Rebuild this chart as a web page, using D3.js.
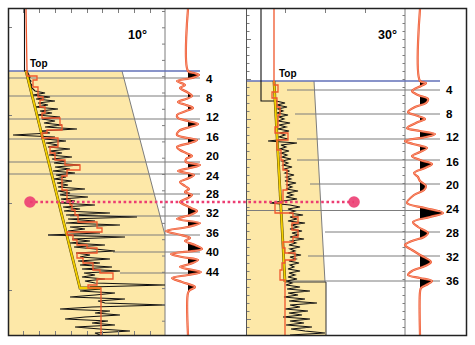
<!DOCTYPE html>
<html>
<head>
<meta charset="utf-8">
<script src="https://cdn.jsdelivr.net/npm/d3@7"></script>
<style>
  body { margin: 0; background: #fff; }
  svg { display: block; font-family: "Liberation Sans", Arial, sans-serif; }
</style>
</head>
<body>
<svg id="chart" width="475" height="345"></svg>
<script>
// depth is counted down from the top of the frame, log values from the left edge of each track
const sampleStep = 2;

// ---- 10° panel ----
const topDepth10 = 62;
const sonicStart10 = 62;
const sonicAbove10 = 15.5;
const sonic10 = [
  18, 19, 20, 21, 20, 22, 21, 23, 22, 24,
  26, 36, 24, 41, 27, 46, 29, 39, 26, 49,
  31, 43, 28, 51, 33, 46, 35, 53, 36, 68,
  31, 41, 4, 46, 36, 57, 37, 49, 39, 61,
  41, 53, 40, 63, 43, 56, 45, 71, 46, 61,
  44, 66, 47, 57, 45, 63, 48, 59, 49, 76,
  49, 61, 51, 79, 52, 66, 51, 86, 54, 71,
  55, 101, 57, 128, 59, 86, 57, 111, 61, 76,
  59, 91, 39, 116, 63, 81, 61, 96, 65, 86,
  106, 67, 81, 71, 101, 69, 91, 71, 103, 73,
  111, 75, 86, 73, 96, 76, 86, 156, 81, 91,
  71, 106, 86, 61, 116, 89, 96, 156, 83, 51,
  101, 86, 111, 76, 56, 99, 83, 106, 66, 91,
  121, 86, 91
];
const redAbove10 = 17;
const blockDepth10 = [62, 67, 71, 78, 88, 91, 98, 104, 109, 116, 121, 124, 129, 138, 144, 151, 156, 161, 167, 181,
  191, 196, 201, 206, 213, 219, 223, 226, 231, 236, 239, 244, 249, 254, 261, 264, 270, 276, 279, 326];
const blockVal10 = [18, 28, 24, 29, 34, 31, 36, 33, 51, 53, 38, 33, 49, 41, 46, 56, 71, 58, 53, 58,
  61, 63, 66, 69, 88, 93, 58, 64, 68, 78, 88, 68, 74, 84, 91, 104, 88, 79, 92];
const trendDepth10 = [62, 279, 279];
const trendVal10 = [17, 71, 92];
const wedgeDepth10 = [62, 226];
const wedgeVal10 = [113, 156];
const events10 = [4, 8, 12, 16, 20, 24, 28, 32, 36, 40, 44];
const eventDepth10 = [69, 87, 110, 130, 153, 165, 185, 207, 226, 243, 264];
const labelDepth10 = [70, 88.5, 108, 127.5, 147, 166.5, 184.5, 204, 224, 243, 262.5];
const eventFrom10 = [0, 0, 0, 0, 0, 0, 51, 61, 39, 104, 111];
const wigDepth10 = [62, 64, 66, 69, 72, 76, 79, 83, 87, 90,
  93, 96, 99, 102, 106, 109, 112, 115, 118, 122,
  126, 129, 131, 134, 138, 141, 144, 147, 150, 153,
  156, 159, 162, 166, 169, 173, 177, 180, 183, 186,
  189, 193, 196, 199, 202, 206, 210, 214, 218, 222,
  226, 229, 232, 236, 240, 245, 248, 251, 255, 258,
  263, 266, 269, 273, 278, 281, 284];
const wigAmp10 = [0, 6, 11, 4, -11, -3, -8, -1, 4, -2,
  -10, -2, 5, -2, -11, -10, 0, 10, 2, -9,
  -11, 0, 9, 2, -11, -8, -2, 4, -2, -2,
  12, 2, -10, 6, 1, -8, -3, 1, -3, 4,
  0, -8, -3, 3, 9, 2, -11, 12, 0, -22,
  -7, 2, -3, 7, 14, -17, -6, 10, 2, -8,
  13, 0, -16, -6, 7, 2, 0];

// ---- 30° panel ----
const topDepth30 = 72;
const sonicStart30 = 92;
const sonicAbove30 = 14;
const sonic30 = [
  29, 38, 30, 40, 31, 36, 30, 41, 32, 37,
  31, 43, 32, 39, 31, 42, 33, 38, 32, 41,
  21, 50, 34, 39, 33, 42, 34, 40, 35, 44,
  35, 41, 36, 45, 37, 42, 38, 47, 39, 44,
  38, 49, 40, 45, 39, 51, 40, 46, 39, 50,
  36, 23, 43, 53, 41, 48, 42, 56, 43, 50,
  41, 58, 44, 51, 43, 55, 45, 52, 43, 57,
  44, 49, 42, 53, 43, 48, 41, 54, 43, 49,
  42, 52, 43, 47, 41, 53, 42, 48, 41, 50,
  40, 45, 39, 53, 40, 63, 41, 51, 37, 58,
  42, 70, 43, 53, 38, 61, 42, 55, 36, 63,
  43, 57, 39, 65, 44, 58, 78, 43
];
const redAbove30 = 27;
const blockDepth30 = [72, 76, 83, 89, 98, 106, 118, 124, 131, 141, 151, 161, 181, 194, 204, 208, 214, 221, 228, 233,
  239, 244, 251, 254, 261, 271, 326];
const blockVal30 = [27, 31, 25, 30, 33, 31, 28, 41, 30, 34, 36, 40, 36, 28, 46, 51, 45, 51, 46, 36,
  38, 48, 38, 35, 33, 38];
const trendDepth30 = [72, 273];
const trendVal30 = [27, 38];
const wedgeDepth30 = [72, 273, 273, 326];
const wedgeVal30 = [67, 78, 79, 79];
const events30 = [4, 8, 12, 16, 20, 24, 28, 32, 36];
const eventDepth30 = [81, 105, 130, 151, 175, 201.5, 223, 247, 272];
const labelDepth30 = [81, 105, 128, 153, 176, 200, 224, 248, 272];
const eventFrom30 = [40, 48, 50, 50, 63, 0, 78, 61, 38];
const wigDepth30 = [72, 74, 77, 82, 86, 90, 94, 98, 103, 107,
  110, 113, 119, 122, 125, 128, 132, 135, 139, 143,
  147, 151, 155, 159, 164, 168, 172, 177, 181, 186,
  194, 199, 204, 208, 213, 218, 224, 228, 232, 236,
  241, 247, 253, 257, 262, 266, 269, 272, 275, 279, 283];
const wigAmp30 = [0, 6, 1, -8, -2, 8, 6, -5, -12, -2,
  5, -2, -13, 0, 15, 6, -15, -7, 7, 0,
  -8, 0, 12, 5, -6, -2, 0, 6, 4, -6,
  -13, 5, 23, 10, -7, -2, 8, 4, -8, -15,
  -8, 2, 11, 5, -8, -12, 0, 12, 8, 1, 0];

// pink marker joining the two panels
const markerDepth = 193;
const markerVal10 = 21;
const markerVal30 = 107;

const colors = {
  fill: '#fde8a8', red: '#f0562c', blue: '#6270b8', grey: '#7d7d7d',
  trend: '#f5d000', pink: '#ec3d72', ink: '#111'
};

const svg = d3.select('#chart');
const depth = d3.scaleLinear().domain([0, 326]).range([9, 335]);

const panels = [
  {
    name: '10°', x: d3.scaleLinear().domain([0, 156]).range([9, 165]),
    amp: d3.scaleLinear().domain([-30, 30]).range([158, 218]),
    top: topDepth10, sonicStart: sonicStart10, sonicAbove: sonicAbove10, sonic: sonic10,
    redAbove: redAbove10, blockDepth: blockDepth10, blockVal: blockVal10,
    trendDepth: trendDepth10, trendVal: trendVal10,
    fillDepth: [topDepth10, ...wedgeDepth10, 326], fillVal: [wedgeVal10[0], ...wedgeVal10, wedgeVal10[1]],
    wedgeDepth: wedgeDepth10, wedgeVal: wedgeVal10,
    events: events10, eventDepth: eventDepth10, labelDepth: labelDepth10, eventFrom: eventFrom10,
    wigDepth: wigDepth10, wigAmp: wigAmp10,
    lineEnd: 200, labelX: 206, titleX: 128, topLabelX: 30
  },
  {
    name: '30°', x: d3.scaleLinear().domain([0, 158]).range([247, 405]),
    amp: d3.scaleLinear().domain([-30, 30]).range([390, 450]),
    top: topDepth30, sonicStart: sonicStart30, sonicAbove: sonicAbove30, sonic: sonic30,
    redAbove: redAbove30, blockDepth: blockDepth30, blockVal: blockVal30,
    trendDepth: trendDepth30, trendVal: trendVal30,
    fillDepth: [topDepth30, ...wedgeDepth30], fillVal: [wedgeVal30[0], ...wedgeVal30],
    wedgeDepth: wedgeDepth30.slice(0, 2), wedgeVal: wedgeVal30.slice(0, 2),
    events: events30, eventDepth: eventDepth30, labelDepth: labelDepth30, eventFrom: eventFrom30,
    wigDepth: wigDepth30, wigAmp: wigAmp30,
    lineEnd: 440, labelX: 446, titleX: 378, topLabelX: 279
  }
];

const line = d3.line().x(d => d[0]).y(d => d[1]);

panels.forEach((p, k) => {
  const g = svg.append('g');
  const x = p.x;
  const left = x.range()[0], div = x.range()[1];

  // yellow fill of the log track
  const poly = [[x(0), depth(p.top)]]
    .concat(p.fillDepth.map((d, i) => [x(p.fillVal[i]), depth(d)]))
    .concat([[x(0), depth(326)]]);
  g.append('path').attr('d', line(poly) + 'Z').attr('fill', colors.fill);

  // slanted boundary
  g.append('path')
    .attr('d', line(p.wedgeDepth.map((d, i) => [x(p.wedgeVal[i]), depth(d)])))
    .attr('fill', 'none').attr('stroke', colors.grey).attr('stroke-width', 1);

  if (k === 1) {
    g.append('path')
      .attr('d', line([[x(trendVal30[1]), depth(273)], [x(79), depth(273)], [x(79), depth(326)]]))
      .attr('fill', 'none').attr('stroke', '#333').attr('stroke-width', 1);
  }

  // track divider
  g.append('line').attr('x1', div).attr('x2', div).attr('y1', depth(0)).attr('y2', depth(326))
    .attr('stroke', colors.grey).attr('stroke-width', 1);

  // event lines
  p.events.forEach((e, i) => {
    g.append('line')
      .attr('x1', x(p.eventFrom[i])).attr('x2', p.lineEnd)
      .attr('y1', depth(p.eventDepth[i])).attr('y2', depth(p.eventDepth[i]))
      .attr('stroke', colors.grey).attr('stroke-width', 1);
  });

  // top line
  g.append('line').attr('x1', left).attr('x2', p.lineEnd)
    .attr('y1', depth(p.top)).attr('y2', depth(p.top))
    .attr('stroke', colors.blue).attr('stroke-width', 1.3);

  // black sonic curve
  const blackPts = [[x(p.sonicAbove), depth(0)], [x(p.sonicAbove), depth(p.sonicStart)]]
    .concat(p.sonic.map((v, i) => [x(v), depth(p.sonicStart + i * sampleStep)]));
  g.append('path').attr('d', line(blackPts))
    .attr('fill', 'none').attr('stroke', colors.ink).attr('stroke-width', 1.1);

  // trend line
  const trendPts = p.trendDepth.map((d, i) => [x(p.trendVal[i]), depth(d)]);
  g.append('path').attr('d', line(trendPts)).attr('fill', 'none')
    .attr('stroke', '#5a4a00').attr('stroke-width', 2.8);
  g.append('path').attr('d', line(trendPts)).attr('fill', 'none')
    .attr('stroke', colors.trend).attr('stroke-width', 1.8);

  // red blocky curve
  const redPts = [[x(p.redAbove), depth(0)]];
  p.blockVal.forEach((v, i) => {
    redPts.push([x(v), depth(p.blockDepth[i])]);
    redPts.push([x(v), depth(p.blockDepth[i + 1])]);
  });
  g.append('path').attr('d', line(redPts)).attr('fill', 'none')
    .attr('stroke', colors.red).attr('stroke-width', 1.3);

  // wiggle trace
  const amp = p.amp;
  const wig = [{d: 0, a: 0}].concat(p.wigDepth.map((d, i) => ({d, a: p.wigAmp[i]}))).concat([{d: 326, a: 0}]);
  const clipId = 'clip' + k;
  svg.append('defs').append('clipPath').attr('id', clipId)
    .append('rect').attr('x', amp(0)).attr('y', 0).attr('width', 40).attr('height', 345);
  const area = d3.area().y(d => depth(d.d)).x0(amp(0)).x1(d => amp(d.a)).curve(d3.curveCatmullRom);
  g.append('path').attr('d', area(wig)).attr('fill', '#000').attr('clip-path', `url(#${clipId})`);
  const wl = d3.line().x(d => amp(d.a)).y(d => depth(d.d)).curve(d3.curveCatmullRom);
  g.append('path').attr('d', wl(wig)).attr('fill', 'none').attr('stroke', colors.red).attr('stroke-width', 2.2);
  g.append('path').attr('d', wl(wig)).attr('fill', 'none').attr('stroke', '#fff').attr('stroke-width', 0.5).attr('opacity', 0.7);

  // labels
  p.events.forEach((e, i) => {
    g.append('text').attr('x', p.labelX).attr('y', depth(p.labelDepth[i]))
      .attr('dy', '0.36em').attr('font-size', 11.5).attr('font-weight', 'bold').text(e);
  });
  g.append('text').attr('x', p.titleX).attr('y', 39)
    .attr('font-size', 12.5).attr('font-weight', 'bold').text(p.name);
  g.append('text').attr('x', p.topLabelX).attr('y', depth(p.top) - 4)
    .attr('font-size', 10).attr('font-weight', 'bold').text('Top');
});

// ticks
function ticks(axis, tx, ty) {
  const a = svg.append('g').attr('transform', `translate(${tx},${ty})`).call(axis);
  a.select('.domain').remove();
  a.selectAll('line').attr('stroke', colors.grey);
}
const p10 = panels[0].x, p30 = panels[1].x;
const topTicks10 = [14, 30, 46, 62, 78, 93, 109, 125, 141];
const topTicks30 = [38, 78, 118];
ticks(d3.axisBottom(p10).tickValues(topTicks10).tickSize(4).tickFormat(''), 0, 9);
ticks(d3.axisTop(p10).tickValues(topTicks10).tickSize(4).tickFormat(''), 0, 335);
ticks(d3.axisBottom(p30).tickValues(topTicks30).tickSize(4).tickFormat(''), 0, 9);
ticks(d3.axisRight(depth).tickValues([18, 106, 194, 281]).tickSize(3).tickFormat(''), 9, 0);
ticks(d3.axisLeft(depth).tickValues(d3.range(2, 326, 16.3)).tickSize(3).tickFormat(''), 165, 0);
ticks(d3.axisRight(depth).tickValues(d3.range(6, 326, 8)).tickSize(2.5).tickFormat(''), 247, 0);
ticks(d3.axisRight(depth).tickValues(d3.range(30, 326, 40)).tickSize(4).tickFormat(''), 247, 0);
ticks(d3.axisLeft(depth).tickValues(d3.range(6, 326, 8)).tickSize(2.5).tickFormat(''), 405, 0);

// panel separator and frame
svg.append('line').attr('x1', 246.5).attr('x2', 246.5).attr('y1', 9).attr('y2', 335)
  .attr('stroke', '#555').attr('stroke-width', 1);
svg.append('rect').attr('x', 8.5).attr('y', 8.5).attr('width', 458).attr('height', 327)
  .attr('fill', 'none').attr('stroke', '#222').attr('stroke-width', 1.5);

// pink dotted marker
const mx0 = p10(markerVal10), mx1 = p30(markerVal30), my = depth(markerDepth);
svg.append('line').attr('x1', mx0).attr('x2', mx1).attr('y1', my).attr('y2', my)
  .attr('stroke', colors.pink).attr('stroke-width', 2.6).attr('stroke-dasharray', '2.6,2.6');
[mx0, mx1].forEach(cx => {
  svg.append('circle').attr('cx', cx).attr('cy', my).attr('r', 5.8).attr('fill', colors.pink).attr('opacity', 0.9);
});
</script>
</body>
</html>
